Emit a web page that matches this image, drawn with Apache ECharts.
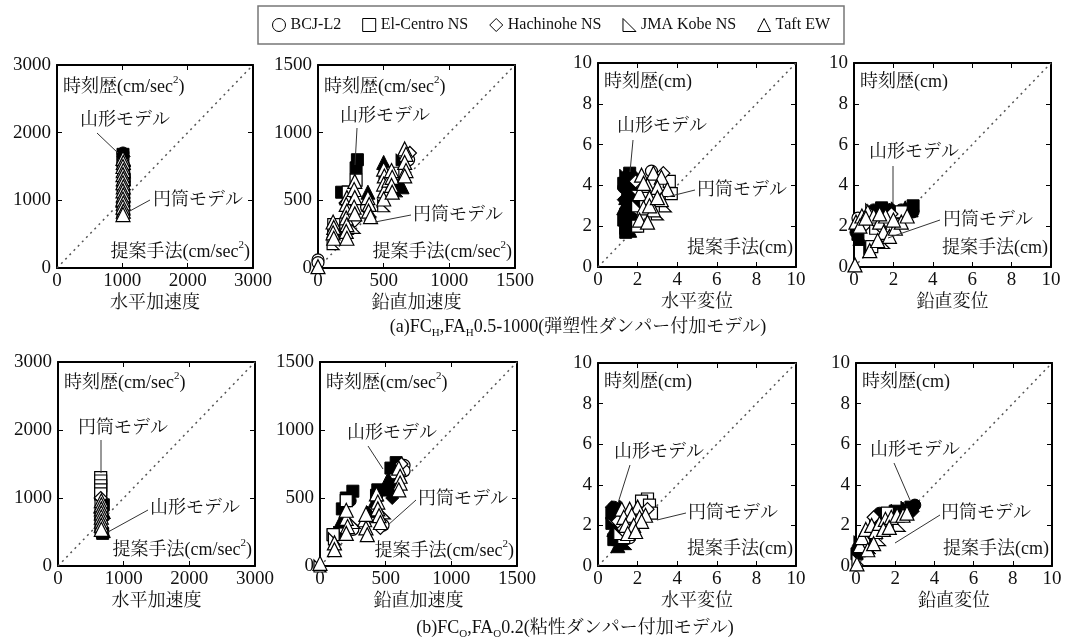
<!DOCTYPE html>
<html><head><meta charset="utf-8">
<script src="https://cdn.jsdelivr.net/npm/echarts@6/dist/echarts.min.js"></script>
<style>html,body{margin:0;padding:0;background:#fff}#c{width:1080px;height:639px}</style>
</head><body><div id="c"></div>
<script>
// ---- categories / labels ----
const quakes = ['BCJ-L2', 'El-Centro NS', 'Hachinohe NS', 'JMA Kobe NS', 'Taft EW'];
const quakeSymbols = ['circle', 'rect', 'diamond', 'path://M0,0 L0,10 L10,10 Z', 'triangle'];
const xTitles = ['水平加速度', '鉛直加速度', '水平変位', '鉛直変位'];
const axisMax = [3000, 1500, 10, 10];
const axisStep = [1000, 500, 2, 2];
const captions = ['(a)FC{s|H},FA{s|H}0.5-1000(弾塑性ダンパー付加モデル)', '(b)FC{s|O},FA{s|O}0.2(粘性ダンパー付加モデル)'];
const modelNames = ['山形モデル', '円筒モデル'];

// ---- data: [提案手法, 時刻歴, quake index] ----
// (a) 弾塑性ダンパー付加モデル
const a1Yama = [[1010,1700,0],[1010,1680,1],[1020,1650,2],[1010,1620,3],[1020,1600,4],[1010,1450,0],[1030,1300,1],[1010,1200,2],[1020,1100,3],[1010,1000,4],[1020,900,1]];
const a1Entou = [[1010,1560,0],[1020,1440,1],[1010,1350,2],[1020,1250,3],[1010,1150,0],[1020,1050,1],[1010,960,2],[1020,870,3],[1010,780,1],
  [1010,1620,4],[1015,1560,4],[1010,1500,4],[1015,1440,4],[1010,1380,4],[1015,1320,4],[1010,1260,4],[1015,1200,4],[1010,1140,4],[1015,1080,4],[1010,1020,4],[1015,960,4],[1010,900,4],[1015,840,4],[1010,790,4]];
const a2Yama = [[300,800,1],[290,740,1],[230,560,1],[180,560,1],[380,560,4],[400,420,3],[500,780,4],[530,720,4],[560,650,1],[640,800,3],[640,600,4],[600,570,3],[120,260,1],[220,300,4],[510,700,1],[620,620,4]];
const a2Entou = [[0,60,0],[0,40,0],[0,10,4],[120,320,1],[115,340,4],[120,300,4],[115,260,4],[120,220,4],[115,180,3],
  [220,520,4],[215,470,4],[220,420,4],[215,370,4],[220,320,4],[215,270,4],[220,220,4],[210,480,2],[230,560,1],
  [290,650,1],[280,640,4],[275,580,4],[280,520,4],[275,450,4],[280,400,4],[280,350,2],[275,300,3],
  [380,520,4],[390,470,4],[385,420,4],[400,380,4],[370,450,0],
  [500,730,4],[505,680,4],[500,620,4],[505,570,4],[500,510,4],[500,460,3],[520,600,2],[540,650,4],
  [560,720,4],[565,670,4],[560,610,4],[565,560,4],[570,700,1],
  [660,880,4],[670,840,4],[660,780,4],[670,720,4],[660,680,4],[700,850,2],[690,800,0]];
const a3Yama = [[1.5,4.5,0],[1.6,4.6,1],[1.4,4.2,2],[1.5,3.8,3],[1.4,3.4,4],[1.5,3.0,0],[1.4,2.6,1],[1.5,2.2,2],[1.4,1.9,3],[1.6,1.8,4],[1.7,2.4,0],[1.8,3.2,1],[1.8,4.4,2],[2.0,4.6,3],[1.3,2.9,4],[1.3,3.9,0],[1.9,2.0,1],[1.6,3.5,2],[1.7,4.1,4],
  [1.3,2.3,1],[1.3,3.3,2],[1.4,4.5,3],[1.5,2.0,0],[1.6,2.8,3],[1.4,1.7,1],[1.3,4.1,1]];
const a3Entou = [[2.7,4.7,0],[1.9,4.2,2],[3.3,4.6,2],[2.4,3.7,2],[3.6,4.2,1],[3.7,3.6,1],[2.0,2.0,1],[3.0,2.6,3],[3.4,3.0,3],[2.0,3.0,3],
  [2.2,4.5,4],[2.8,4.6,4],[3.2,4.4,4],[2.5,4.0,4],[3.0,3.9,4],[3.5,3.8,4],[2.1,3.6,4],[2.6,3.4,4],[3.2,3.3,4],[2.3,2.9,4],[2.8,2.8,4],[2.1,2.3,4],[2.5,2.2,4],[2.6,3.0,4],[3.0,3.4,4],[2.3,4.1,4]];
const a4Yama = [[1.0,2.8,0],[1.4,2.9,1],[1.8,2.8,2],[2.2,2.9,3],[2.6,2.9,4],[3.0,3.0,1],[3.0,2.7,0],[2.7,2.6,2],[0.2,1.6,1],[0.3,1.4,4],[0.8,0.9,3],[1.2,2.7,3],[2.0,2.7,4],[0.1,1.7,0],[1.6,2.8,1],[2.4,2.8,0],[2.9,2.8,4]];
const a4Entou = [[0.2,2.4,0],[0.9,1.0,1],[2.4,2.7,1],[0.6,2.1,2],[1.9,2.6,2],[1.1,1.9,3],[1.5,1.2,3],[0.9,2.8,3],
  [0.05,0.1,4],[0.8,0.8,4],[0.1,2.2,4],[0.4,2.5,4],[0.7,2.7,4],[1.0,2.5,4],[1.3,2.2,4],[1.6,2.5,4],[0.3,2.0,4],[1.5,1.7,4],[1.8,1.5,4],[2.1,1.9,4],[2.4,2.2,4],[2.7,2.5,4],[1.2,1.3,4],[0.6,2.4,4],[1.3,2.6,4],[2.0,2.3,4]];
// (b) 粘性ダンパー付加モデル
const b1Yama = [[680,480,1],[650,500,0],[690,520,4],[690,600,3],[695,700,2],[690,800,4],[690,900,1]];
const b1Entou = [[650,1300,1],[650,1250,1],[650,1180,1],[650,1120,1],[650,1060,1],[650,1000,2],[645,780,2],[650,700,0],[655,900,3],[655,620,3],
  [660,960,4],[660,900,4],[660,840,4],[660,780,4],[660,720,4],[660,660,4],[660,600,4],[660,540,4]];
const b2Yama = [[580,760,1],[540,720,1],[520,640,4],[530,560,3],[550,500,2],[440,560,1],[420,480,4],[400,400,3],[250,550,1],[230,480,0],[170,420,1],[160,330,4],[150,250,3],[100,230,1],[560,600,0],[520,560,1],[200,500,1],[430,520,1]];
const b2Entou = [[0,20,4],[0,0,3],[100,230,1],[110,170,4],[110,120,4],[110,200,3],[200,480,1],[200,350,4],[210,290,4],[200,240,4],[220,300,2],[250,270,0],
  [340,340,4],[350,280,4],[360,230,4],[350,330,2],[430,530,4],[440,470,4],[440,420,4],[450,370,4],[460,320,4],[480,300,0],[460,280,2],
  [600,720,4],[610,660,4],[610,610,4],[640,740,0],[640,700,0],[620,750,2],[490,390,3],[260,320,3],[200,410,4],[350,380,4],[600,560,4]];
const b3Yama = [[0.8,2.9,0],[0.9,2.7,1],[0.8,2.4,2],[0.7,2.1,3],[0.8,1.8,4],[0.9,1.5,0],[1.0,1.3,1],[1.2,1.1,2],[1.4,1.1,3],[1.1,2.9,4],[0.7,2.6,1],[1.2,1.4,4],[0.7,2.9,2],[0.8,1.3,3],[1.0,1.0,4]];
const b3Entou = [[2.5,3.3,1],[2.2,3.2,1],[2.6,3.0,1],[2.7,2.6,1],[1.3,1.4,1],[1.1,1.6,3],[2.5,2.8,2],[1.0,2.2,2],[1.6,1.4,0],
  [1.2,2.8,4],[1.6,2.8,4],[2.0,2.9,4],[1.3,2.4,4],[1.7,2.5,4],[2.1,2.4,4],[2.4,2.5,4],[1.4,2.0,4],[1.8,2.0,4],[2.2,2.2,4],[1.5,1.6,4],[1.9,1.7,4]];
const b4Yama = [[0.05,0.6,1],[0.1,0.9,0],[0.2,1.2,3],[0.5,1.5,4],[0.8,1.8,2],[1.0,2.2,1],[1.3,2.5,4],[1.6,2.6,3],[2.0,2.7,1],[2.4,2.8,4],[2.8,2.9,1],[3.0,3.0,0],[2.9,2.7,2],[0.3,0.8,1],[0.7,0.9,3],[1.2,2.6,0],[1.8,2.7,4],[2.6,2.9,3]];
const b4Entou = [[0.4,1.2,0],[1.6,2.6,1],[0.9,2.4,2],[0.1,0.3,3],[1.2,1.3,3],[2.2,2.0,3],
  [0.05,0.1,4],[0.2,1.0,4],[0.3,1.4,4],[0.5,1.8,4],[0.8,2.0,4],[1.0,1.7,4],[1.2,2.1,4],[1.5,2.3,4],[1.4,1.8,4],[1.8,2.4,4],[1.7,1.9,4],[2.1,2.5,4],[2.4,2.5,4],[2.6,2.6,4],[0.6,0.8,4],[0.9,1.1,4]];

const plotData = [[a1Yama,a1Entou],[a2Yama,a2Entou],[a3Yama,a3Entou],[a4Yama,a4Entou],
                  [b1Yama,b1Entou],[b2Yama,b2Entou],[b3Yama,b3Entou],[b4Yama,b4Entou]];

// ---- layout ----
const grids = [
  {left:57, top:65, width:196, height:203},
  {left:318, top:65, width:197, height:203},
  {left:598, top:63, width:198, height:204},
  {left:854, top:63, width:197, height:204},
  {left:58, top:362, width:197, height:204},
  {left:320, top:362, width:197, height:204},
  {left:598, top:363, width:198, height:203},
  {left:856, top:363, width:196, height:203}
];
const annot = [
  {yama:[80,120],yl:[97,133,118,153], entou:[153,200], el:[150,200,128,212], jy:87, ty:252},
  {yama:[340,116],yl:[357,128,355,165], entou:[413,215], el:[411,215,375,222], jy:87, ty:252},
  {yama:[617,126],yl:[633,140,630,172], entou:[697,190], el:[695,190,667,197], jy:82, ty:248},
  {yama:[869,152],yl:[893,166,893,203], entou:[943,220], el:[940,220,888,238], jy:82, ty:248},
  {yama:[150,508],yl:[148,510,108,532], entou:[78,428], el:[101,440,101,473], jy:383, ty:550},
  {yama:[347,433],yl:[368,446,383,469], entou:[418,499], el:[416,500,388,525], jy:383, ty:551},
  {yama:[614,452],yl:[630,465,618,503], entou:[688,513], el:[686,513,657,520], jy:382, ty:549},
  {yama:[870,450],yl:[894,463,910,500], entou:[941,513], el:[940,515,895,543], jy:382, ty:549}
];

const FONT = "'Liberation Serif','Noto Serif CJK JP','Noto Sans CJK JP',serif";
const INK = '#111';
const plain = v => String(v);

const xAxes = [], yAxes = [], series = [], graphics = [];
grids.forEach((g, p) => {
  const c = p % 4, max = axisMax[c], step = axisStep[c];
  const line = {show:true, onZero:false, lineStyle:{color:'#000', width:2}};
  const tick = {show:true, inside:true, length:5, lineStyle:{color:'#000', width:1}};
  xAxes.push({type:'value', gridIndex:p, min:0, max:max, interval:step, position:'bottom',
    axisLine:line, axisTick:tick, splitLine:{show:false},
    axisLabel:{fontSize:19, fontFamily:FONT, color:INK, margin:4, formatter:plain},
    name:xTitles[c], nameLocation:'middle', nameGap:26,
    nameTextStyle:{fontSize:18, fontFamily:FONT, color:INK}});
  xAxes.push({type:'value', gridIndex:p, min:0, max:max, interval:step, position:'top',
    axisLine:line, axisTick:tick, splitLine:{show:false}, axisLabel:{show:false}});
  yAxes.push({type:'value', gridIndex:p, min:0, max:max, interval:step, position:'left',
    axisLine:line, axisTick:tick, splitLine:{show:false},
    axisLabel:{fontSize:19, fontFamily:FONT, color:INK, margin:6, formatter:plain}});
  yAxes.push({type:'value', gridIndex:p, min:0, max:max, interval:step, position:'right',
    axisLine:line, axisTick:tick, splitLine:{show:false}, axisLabel:{show:false}});

  series.push({type:'line', xAxisIndex:2*p, yAxisIndex:2*p, data:[[0,0],[max,max]], symbol:'none', silent:true,
    lineStyle:{type:[2,4], color:'#555', width:1.5}, z:1});
  plotData[p].forEach((pts, m) => {
    const filled = m === 0;
    quakes.forEach((q, k) => {
      const d = pts.filter(t => t[2] === k).map(t => [t[0], t[1]]);
      if (!d.length) return;
      series.push({type:'scatter', name:q, xAxisIndex:2*p, yAxisIndex:2*p, data:d,
        symbol:quakeSymbols[k], symbolSize:(k===2?13:(k===4?14:12)), silent:true,
        itemStyle: filled ? {color:'#000', borderColor:'#000', borderWidth:1, opacity:1}
                          : {color:'#fff', borderColor:'#000', borderWidth:1.2, opacity:1},
        z: filled ? 2 : 3});
    });
  });

  const a = annot[p];
  const unit = c < 2 ? '(cm/sec{s|2})' : '(cm)';
  const rich = {s:{fontSize:11, fontFamily:FONT, fill:INK, verticalAlign:'top', lineHeight:11}};
  const txt = (x, y, text, align) => ({type:'text', x, y, silent:true, z:10,
    style:{text, fontSize:18, fontFamily:FONT, fill:INK, align:align||'left', verticalAlign:'middle', lineHeight:24, rich}});
  graphics.push(txt(g.left + 6, a.jy, '時刻歴' + unit));
  graphics.push(txt(g.left + g.width - 3, a.ty, '提案手法' + unit, 'right'));
  graphics.push(txt(a.yama[0], a.yama[1], modelNames[0]));
  graphics.push(txt(a.entou[0], a.entou[1], modelNames[1]));
  [a.yl, a.el].forEach(l => graphics.push({type:'line', silent:true, z:10,
    shape:{x1:l[0], y1:l[1], x2:l[2], y2:l[3]}, style:{stroke:'#333', lineWidth:1}}));
});

const capRich = {s:{fontSize:11, fontFamily:FONT, fill:INK, verticalAlign:'bottom', lineHeight:11}};
[[578, 327], [575, 628]].forEach((pos, i) => graphics.push({type:'text', x:pos[0], y:pos[1], silent:true,
  style:{text:captions[i], fontSize:18, fontFamily:FONT, fill:INK, align:'center', verticalAlign:'middle', lineHeight:24, rich:capRich}}));

const chart = echarts.init(document.getElementById('c'), null, {renderer:'canvas'});
chart.setOption({
  animation:false,
  backgroundColor:'#fff',
  legend:{top:6, left:258, padding:[11,14], itemGap:21, itemWidth:13, itemHeight:13,
    borderColor:'#777', borderWidth:1.5, selectedMode:false,
    textStyle:{fontSize:16, fontFamily:FONT, color:INK},
    data:quakes.map((q,k) => ({name:q, icon:quakeSymbols[k], itemStyle:{color:'#fff', borderColor:'#000', borderWidth:1}}))},
  grid:grids,
  xAxis:xAxes,
  yAxis:yAxes,
  series:series,
  graphic:graphics
});
</script>
</body></html>
